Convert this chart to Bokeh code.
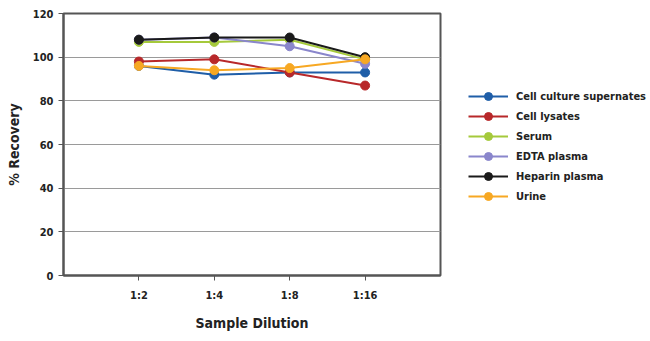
from bokeh.plotting import figure
from bokeh.models import FixedTicker, Legend, LegendItem, Range1d
from bokeh.embed import file_html
from bokeh.resources import INLINE

dilutions = ["1:2", "1:4", "1:8", "1:16"]
cell_culture = [96, 92, 93, 93]
cell_lysates = [98, 99, 93, 87]
serum = [107, 107, 108, 99]
edta_plasma = [108, 109, 105, 97]
heparin_plasma = [108, 109, 109, 100]
urine = [96, 94, 95, 99]

series_names = ["Cell culture supernates", "Cell lysates", "Serum",
                "EDTA plasma", "Heparin plasma", "Urine"]
series_values = [cell_culture, cell_lysates, serum, edta_plasma, heparin_plasma, urine]
colors = ["#1f5ea8", "#b8282a", "#a5c93b", "#8a86cc", "#1a1a1a", "#f7a823"]

FONT = "DejaVu Sans Condensed"
xs = list(range(1, len(dilutions) + 1))

p = figure(frame_width=377, frame_height=262, output_backend="svg", toolbar_location=None,
           x_range=Range1d(0, 5), y_range=Range1d(0, 120),
           min_border_left=63, min_border_right=210, min_border_top=13, min_border_bottom=66)

items = []
for name, vals, c in zip(series_names, series_values, colors):
    r1 = p.line(xs, vals, line_color=c, line_width=2)
    r2 = p.scatter(xs, vals, size=9, fill_color=c, line_color=c)
    items.append(LegendItem(label=name, renderers=[r1, r2]))

p.xaxis.ticker = FixedTicker(ticks=xs)
p.xaxis.major_label_overrides = {x: d for x, d in zip(xs, dilutions)}
p.yaxis.ticker = FixedTicker(ticks=[0, 20, 40, 60, 80, 100, 120])

for ax in (p.xaxis, p.yaxis):
    ax.axis_line_color = "#555555"
    ax.axis_line_width = 2
    ax.major_tick_line_color = "#555555"
    ax.major_tick_out = 5
    ax.major_tick_in = 0
    ax.minor_tick_line_color = None
    ax.major_label_text_font = FONT
    ax.major_label_text_font_style = "bold"
    ax.major_label_text_font_size = "11px"
    ax.major_label_text_color = "#222222"
    ax.axis_label_text_font = FONT
    ax.axis_label_text_font_style = "bold"
    ax.axis_label_text_font_size = "14px"
    ax.axis_label_text_color = "#222222"

p.xaxis.axis_label = "Sample Dilution"
p.yaxis.axis_label = "% Recovery"
p.xaxis.major_label_standoff = 8
p.xaxis.axis_label_standoff = 10
p.yaxis.major_label_standoff = 5
p.yaxis.axis_label_standoff = 8

p.xgrid.grid_line_color = None
p.ygrid.grid_line_color = "#9a9a9a"
p.ygrid.grid_line_width = 1
p.outline_line_color = "#555555"
p.outline_line_width = 2

legend = Legend(items=items, location=(28, 69), border_line_color=None,
                background_fill_alpha=0, padding=0, margin=0, spacing=0,
                glyph_width=40, glyph_height=20, label_standoff=8,
                label_text_font=FONT, label_text_font_style="bold",
                label_text_font_size="11px", label_text_color="#222222")
p.add_layout(legend, "right")

open("out.html", "w").write(file_html(p, INLINE))
